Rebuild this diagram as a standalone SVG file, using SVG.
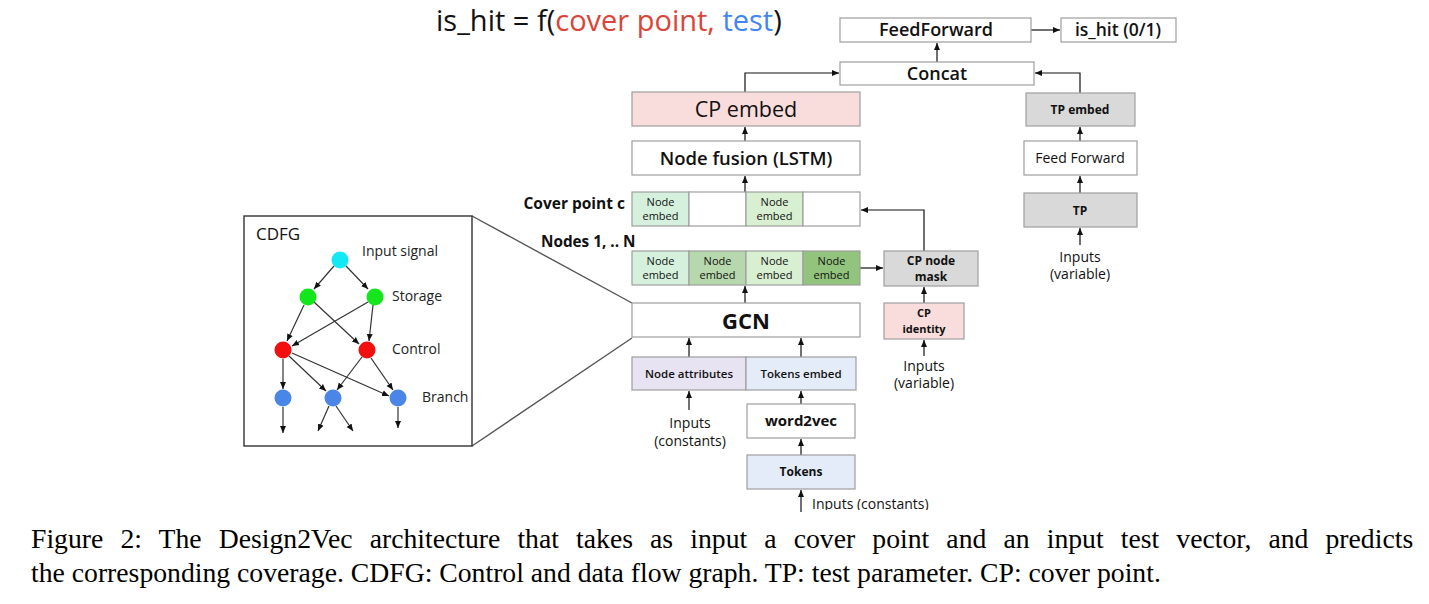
<svg xmlns="http://www.w3.org/2000/svg" width="1429" height="604" viewBox="0 0 1429 604">
<style>
.box{stroke:#9e9e9e;stroke-width:1.2}
.w{fill:#fff}.pink{fill:#f9dcdc}.gray{fill:#d9d9d9}.lav{fill:#e7e3f2}.blue{fill:#e4ecf9}
.g1{fill:#d5f1de}.g2{fill:#b7d8ac}.g3{fill:#d9efd1}.g4{fill:#93c47d}
.t{font-family:"Open Sans",Roboto,sans-serif;fill:#111;text-anchor:middle}
.b{font-weight:bold}.m{font-weight:600}
.c{stroke:#111;stroke-width:1.2;fill:none}
.e{stroke:#333;stroke-width:1.2;fill:none}
.lbl{font-family:"Open Sans",Roboto,sans-serif;font-size:14px;fill:#222}
.cap{font-family:"Liberation Serif",serif;font-size:27.7px;fill:#000}
</style>
<defs>
<marker id="ah" markerWidth="8" markerHeight="8" refX="7" refY="4" orient="auto" markerUnits="userSpaceOnUse">
<path d="M0,1 L7,4 L0,7 z" fill="#111"/>
</marker>
<clipPath id="clipb"><rect x="0" y="0" width="1429" height="510"/></clipPath>
</defs>

<text x="436" y="31" font-family="'Open Sans',Roboto,sans-serif" font-size="29" fill="#111">is_hit = f(<tspan fill="#db4437">cover point,</tspan><tspan fill="#4285f4"> test</tspan>)</text>

<g id="connectors">
<path class="c" d="M1031,30 H1060" marker-end="url(#ah)"/>
<path class="c" d="M937,62 V43" marker-end="url(#ah)"/>
<path class="c" d="M745,92 V73 H839" marker-end="url(#ah)"/>
<path class="c" d="M1080,93 V73 H1035" marker-end="url(#ah)"/>
<path class="c" d="M745,141 V127" marker-end="url(#ah)"/>
<path class="c" d="M745,192 V176" marker-end="url(#ah)"/>
<path class="c" d="M1080,141 V127" marker-end="url(#ah)"/>
<path class="c" d="M1080,193 V176" marker-end="url(#ah)"/>
<path class="c" d="M1080,245 V228" marker-end="url(#ah)"/>
<path class="c" d="M860,268 H883" marker-end="url(#ah)"/>
<path class="c" d="M924,251 V210 H861" marker-end="url(#ah)"/>
<path class="c" d="M924,303 V287" marker-end="url(#ah)"/>
<path class="c" d="M924,356 V340" marker-end="url(#ah)"/>
<path class="c" d="M745,303 V286" marker-end="url(#ah)"/>
<path class="c" d="M689,357 V338" marker-end="url(#ah)"/>
<path class="c" d="M801,357 V338" marker-end="url(#ah)"/>
<path class="c" d="M689,410 V391" marker-end="url(#ah)"/>
<path class="c" d="M801,404 V391" marker-end="url(#ah)"/>
<path class="c" d="M801,455 V439" marker-end="url(#ah)"/>
<path class="c" d="M801,512 V490" marker-end="url(#ah)"/>
<path d="M472,216 L632,303 M472,446 L632,338" stroke="#555" stroke-width="1.4" fill="none"/>
</g>

<g id="feedforward"><rect class="box w" x="840" y="18" width="191" height="24"/><text class="t m" x="936" y="36" font-size="18">FeedForward</text></g>
<g id="ishit"><rect class="box w" x="1061" y="18" width="115" height="24"/><text class="t m" x="1118" y="36" font-size="17.5">is_hit (0/1)</text></g>
<g id="concat"><rect class="box w" x="840" y="62" width="194" height="23"/><text class="t m" x="937" y="80" font-size="18">Concat</text></g>
<g id="cpembed"><rect class="box pink" x="632" y="92" width="228" height="34"/><text class="t" x="746" y="116.5" font-size="21.5">CP embed</text></g>
<g id="tpembed"><rect class="box gray" x="1026" y="93" width="109" height="33"/><text class="t b" x="1080" y="114" font-size="12">TP embed</text></g>
<g id="nodefusion"><rect class="box w" x="632" y="141" width="228" height="34"/><text class="t m" x="746" y="164.5" font-size="18.5">Node fusion (LSTM)</text></g>
<g id="ffw"><rect class="box w" x="1024" y="141" width="113" height="34"/><text class="t" x="1080" y="163" font-size="14">Feed Forward</text></g>
<g id="tp"><rect class="box gray" x="1024" y="193" width="113" height="34"/><text class="t b" x="1080" y="215" font-size="12">TP</text></g>
<g id="tpinputs"><text class="t" x="1080" y="262" font-size="14">Inputs</text><text class="t" x="1080" y="279" font-size="14">(variable)</text></g>

<g id="coverpoint">
<text class="t b" x="625" y="209" font-size="15.5" style="text-anchor:end">Cover point c</text>
<rect class="box g1" x="632" y="192" width="57" height="34"/>
<rect class="box w" x="689" y="192" width="57" height="34"/>
<rect class="box g3" x="746" y="192" width="57" height="34"/>
<rect class="box w" x="803" y="192" width="57" height="34"/>
<text class="t" x="660.5" y="206" font-size="11">Node</text><text class="t" x="660.5" y="220" font-size="11">embed</text>
<text class="t" x="774.5" y="206" font-size="11">Node</text><text class="t" x="774.5" y="220" font-size="11">embed</text>
</g>

<g id="nodes">
<text class="t b" x="541" y="247" font-size="15.3" style="text-anchor:start">Nodes 1, .. N</text>
<rect class="box g1" x="632" y="251" width="57" height="34"/>
<rect class="box g2" x="689" y="251" width="57" height="34"/>
<rect class="box g3" x="746" y="251" width="57" height="34"/>
<rect class="box g4" x="803" y="251" width="57" height="34"/>
<text class="t" x="660.5" y="265" font-size="11">Node</text><text class="t" x="660.5" y="279" font-size="11">embed</text>
<text class="t" x="717.5" y="265" font-size="11">Node</text><text class="t" x="717.5" y="279" font-size="11">embed</text>
<text class="t" x="774.5" y="265" font-size="11">Node</text><text class="t" x="774.5" y="279" font-size="11">embed</text>
<text class="t" x="831.5" y="265" font-size="11">Node</text><text class="t" x="831.5" y="279" font-size="11">embed</text>
</g>

<g id="cpmask"><rect class="box gray" x="884" y="251" width="94" height="35"/><text class="t b" x="931" y="265" font-size="12">CP node</text><text class="t b" x="931" y="281" font-size="12">mask</text></g>
<g id="cpidentity"><rect class="box pink" x="884" y="303" width="80" height="36"/><text class="t b" x="924" y="317" font-size="11">CP</text><text class="t b" x="924" y="333" font-size="11">identity</text></g>
<g id="cpinputs"><text class="t" x="924" y="371" font-size="14">Inputs</text><text class="t" x="924" y="388" font-size="14">(variable)</text></g>

<g id="gcn"><rect class="box w" x="632" y="303" width="228" height="34"/><text class="t b" x="746" y="329" font-size="22">GCN</text></g>
<g id="nodeattr"><rect class="box lav" x="632" y="357" width="114" height="33"/><text class="t m" x="689" y="378" font-size="11.5">Node attributes</text></g>
<g id="tokembed"><rect class="box blue" x="746" y="357" width="110" height="33"/><text class="t m" x="801" y="378" font-size="11.5">Tokens embed</text></g>
<g id="constinputs"><text class="t" x="690" y="428" font-size="14">Inputs</text><text class="t" x="690" y="446" font-size="14">(constants)</text></g>
<g id="word2vec"><rect class="box w" x="747" y="404" width="108" height="34"/><text class="t b" x="801" y="426" font-size="15">word2vec</text></g>
<g id="tokens"><rect class="box blue" x="747" y="455" width="108" height="34"/><text class="t b" x="801" y="476" font-size="12">Tokens</text></g>
<g id="tokinputs" clip-path="url(#clipb)"><text class="t" x="812" y="509" font-size="14" style="text-anchor:start">Inputs (constants)</text></g>

<g id="cdfg">
<rect x="244" y="216" width="228" height="230" fill="#fff" stroke="#333" stroke-width="1.4"/>
<text x="256" y="240" font-family="'Open Sans',Roboto,sans-serif" font-size="17" fill="#111">CDFG</text>
<g class="edges">
<path class="e" d="M334,266 L314,289" marker-end="url(#ah)"/>
<path class="e" d="M346,266 L368,289" marker-end="url(#ah)"/>
<path class="e" d="M304,305 L287,341" marker-end="url(#ah)"/>
<path class="e" d="M314,302 L359,344" marker-end="url(#ah)"/>
<path class="e" d="M368,302 L292,346" marker-end="url(#ah)"/>
<path class="e" d="M373,305 L369,341" marker-end="url(#ah)"/>
<path class="e" d="M283,359 V389" marker-end="url(#ah)"/>
<path class="e" d="M289,356 L326,391" marker-end="url(#ah)"/>
<path class="e" d="M292,353 L389,396" marker-end="url(#ah)"/>
<path class="e" d="M362,357 L337,390" marker-end="url(#ah)"/>
<path class="e" d="M371,358 L393,390" marker-end="url(#ah)"/>
<path class="e" d="M283,407 V433" marker-end="url(#ah)"/>
<path class="e" d="M329,406 L318,431" marker-end="url(#ah)"/>
<path class="e" d="M336,406 L353,431" marker-end="url(#ah)"/>
<path class="e" d="M398,407 V428" marker-end="url(#ah)"/>
</g>
<circle cx="340" cy="260" r="8.5" fill="#14e8f4"/>
<circle cx="308" cy="297" r="8.5" fill="#14e61c"/>
<circle cx="375" cy="297" r="8.5" fill="#14e61c"/>
<circle cx="283" cy="350" r="8.5" fill="#f40f0f"/>
<circle cx="367" cy="350" r="8.5" fill="#f40f0f"/>
<circle cx="283" cy="398" r="8.5" fill="#4a86e8"/>
<circle cx="333" cy="398" r="8.5" fill="#4a86e8"/>
<circle cx="398" cy="398" r="8.5" fill="#4a86e8"/>
<text class="lbl" x="362" y="256">Input signal</text>
<text class="lbl" x="392" y="301">Storage</text>
<text class="lbl" x="392" y="354">Control</text>
<text class="lbl" x="422" y="402">Branch</text>
</g>

<g id="caption">
<text class="cap" x="31" y="548" word-spacing="10.2">Figure 2: The Design2Vec architecture that takes as input a cover point and an input test vector, and predicts</text>
<text class="cap" x="31" y="582">the corresponding coverage. CDFG: Control and data flow graph. TP: test parameter. CP: cover point.</text>
</g>
</svg>
